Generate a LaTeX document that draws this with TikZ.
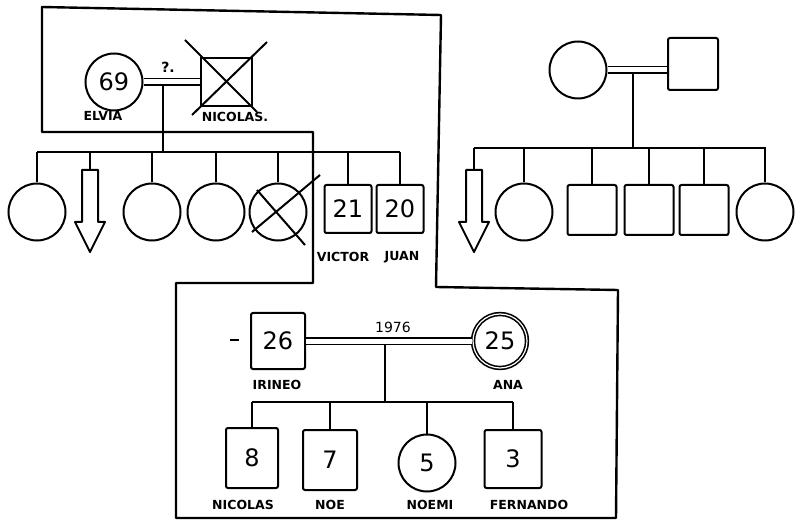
\documentclass[tikz,border=0pt]{standalone}
\usepackage{fontspec}
\newfontfamily\namefont{DejaVu Sans}
\newfontfamily\numfont{DejaVu Sans}
\usetikzlibrary{calc}

\begin{document}
\begin{tikzpicture}[x=1pt,y=-1pt,line width=2pt,
    fem/.style={circle,draw,minimum size=57pt,inner sep=0pt,font=\numfont\fontsize{24}{24}\selectfont},
    male/.style={rectangle,draw,rounded corners=2pt,minimum width=50pt,minimum height=50pt,inner sep=0pt,font=\numfont\fontsize{24}{24}\selectfont},
    tag/.style={font=\namefont\bfseries\fontsize{12.5}{12.5}\selectfont},
    marriage/.style={double,double distance=5pt,line width=1.8pt},
    outline/.style={line width=2.4pt,line join=round},
    pics/descarrow/.style={code={
      \draw[line join=round] (-8,0) -- (-8,52) -- (-15,52) -- (0,82) -- (15,52) -- (8,52) -- (8,0) -- cycle;}}]
  \useasboundingbox (0,0) rectangle (795,521);

  % household outline
  \draw[outline] (42,7) -- (441,15) -- (436,287) -- (618,290) -- (616,518) -- (176,518)
    -- (176,283) -- (313,283) -- (313,132) -- (42,132) -- cycle;

  % grandparents (left)
  \node[fem] (elvia) at (114,82) {69};
  \node[male,rounded corners=0pt,minimum width=51pt,minimum height=48pt] (nicolas) at (226,82) {};
  \draw (185,40) -- (257,112) (267,42) -- (192,115);
  \coordinate (m1) at (163,82);
  \coordinate (sibA) at (37,152);
  \coordinate (sibB) at (400,152);
  \draw (m1) -- (m1 |- sibA);
  \draw[marriage] (elvia) -- (nicolas);
  \node[font=\numfont\bfseries\fontsize{14}{14}\selectfont] (q) at (168,67) {?.};
  \node[tag] (elviaN) at (103,116) {ELVIA};
  \node[tag] (nicolasN) at (235,117) {NICOLAS.};
  \draw (sibA) -- (sibB);

  % their children
  \foreach \nm/\x in {a1/37,a3/152,a4/216,a5/278}{
    \node[fem] (\nm) at (\x,212) {};
    \draw (\nm.north) -- (\nm.north |- sibA);
  }
  \draw (320,175) -- (252,232) (257,190) -- (305,245);
  \coordinate (a2) at (90,170);
  \pic at (a2) {descarrow};
  \draw (a2) -- (a2 |- sibA);
  \node[male,minimum width=47pt,minimum height=48pt] (victor) at (348,209) {21};
  \node[male,minimum width=47pt,minimum height=48pt] (juan) at (400,209) {20};
  \draw (victor.north) -- (victor.north |- sibA);
  \draw (juan.north) -- (juan.north |- sibA);
  \node[tag] (victorN) at (343,257) {VICTOR};
  \node[tag] (juanN) at (402,257) {JUAN};

  % grandparents (right)
  \node[fem] (mother) at (578,70) {};
  \node[male,minimum height=52pt] (father) at (693,64) {};
  \coordinate (m2) at (633,70);
  \coordinate (sibC) at (474,148);
  \coordinate (sibD) at (766,148);
  \draw (m2) -- (m2 |- sibC);
  \draw[marriage] (mother.east) -- (mother.east -| father.west);
  \draw (sibC) -- (sibD);
  \coordinate (b1) at (474,170);
  \pic at (b1) {descarrow};
  \draw (b1) -- (b1 |- sibC);
  \foreach \nm/\x in {b2/524,b6/765}{
    \node[fem] (\nm) at (\x,212) {};
    \draw (\nm.north) -- (\nm.north |- sibC);
  }
  \foreach \nm/\x in {b3/592,b4/649,b5/704}{
    \node[male,minimum width=49pt] (\nm) at (\x,210) {};
    \draw (\nm.north) -- (\nm.north |- sibC);
  }

  % couple
  \node[male,minimum width=54pt,minimum height=56pt] (irineo) at (278,341) {26};
  \node[fem,double,double distance=1.2pt,line width=1.6pt,minimum size=54pt] (ana) at (500,341) {25};
  \draw (230,340) -- (239,340);
  \coordinate (m3) at (385,341);
  \coordinate (sibE) at (252,402);
  \coordinate (sibF) at (513,402);
  \draw (m3) -- (m3 |- sibE);
  \draw[marriage] (irineo) -- (ana);
  \node[font=\numfont\fontsize{14}{14}\selectfont] (year) at (393,327) {1976};
  \node[tag] (irineoN) at (277,385) {IRINEO};
  \node[tag] (anaN) at (508,385) {ANA};
  \draw (sibE) -- (sibF);

  % children
  \node[male,minimum width=52pt,minimum height=60pt] (c1) at (252,458) {8};
  \node[male,minimum width=54pt,minimum height=60pt] (c2) at (330,460) {7};
  \node[fem] (c3) at (427,463) {5};
  \node[male,minimum width=57pt,minimum height=58pt] (c4) at (513,459) {3};
  \foreach \nm in {c1,c2,c3,c4}{
    \draw (\nm.north) -- (\nm.north |- sibE);
  }
  \node[tag] (c1N) at (243,505) {NICOLAS};
  \node[tag] (c2N) at (330,505) {NOE};
  \node[tag] (c3N) at (430,505) {NOEMI};
  \node[tag] (c4N) at (529,505) {FERNANDO};
\end{tikzpicture}
\end{document}
